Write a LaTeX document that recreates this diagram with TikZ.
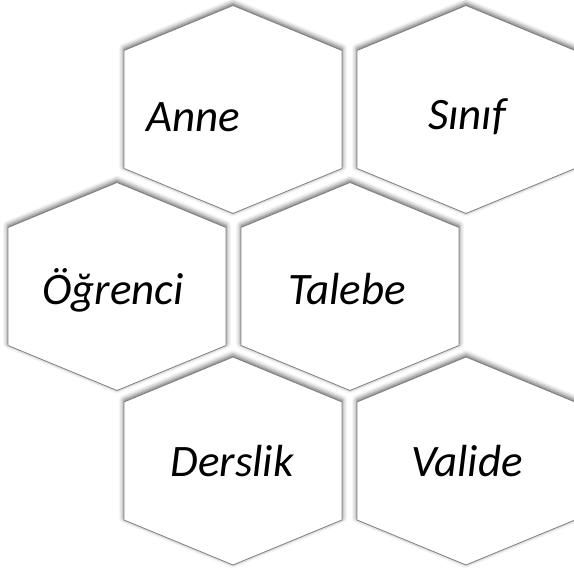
\documentclass[tikz,border=0pt]{standalone}
\usepackage{fontspec}
\setmainfont{Carlito}
\usetikzlibrary{shadows.blur}
\definecolor{celledge}{HTML}{808080}
\definecolor{cellfill}{HTML}{FFFFFF}
\definecolor{wordink}{HTML}{000000}

\tikzset{
  hexcell/.style={draw=celledge, fill=cellfill, line width=0.8pt, line join=miter,
    blur shadow={shadow xshift=0pt, shadow yshift=2pt, shadow blur radius=5pt, shadow opacity=65}},
  hexword/.style={anchor=base, inner sep=0pt, text=wordink, font=\fontsize{45}{52}\selectfont\itshape}
}

\begin{document}
\begin{tikzpicture}[x=1pt, y=1pt]
  \useasboundingbox (0,0) rectangle (574,572);
  % honeycomb cells: centre x / centre y / name / word / text x / baseline
  \foreach \cx/\cy/\name/\word/\tx/\ty in {
      233/462.5/anne/Anne/193/440,
      466/462.5/sinif/Sınıf/467/442,
      117/285.5/ogrenci/Öğrenci/113/267,
      350/285.5/talebe/Talebe/347/267,
      233/111/derslik/Derslik/232/95,
      466/111/valide/Valide/467/95} {
    \draw[hexcell] (\cx,\cy) ++(0,104) -- ++(109,-45) -- ++(0,-118)
      -- ++(-109,-45) -- ++(-109,45) -- ++(0,118) -- cycle;
    \node[hexword] (\name) at (\tx,\ty) {\word};
  }
\end{tikzpicture}
\end{document}
